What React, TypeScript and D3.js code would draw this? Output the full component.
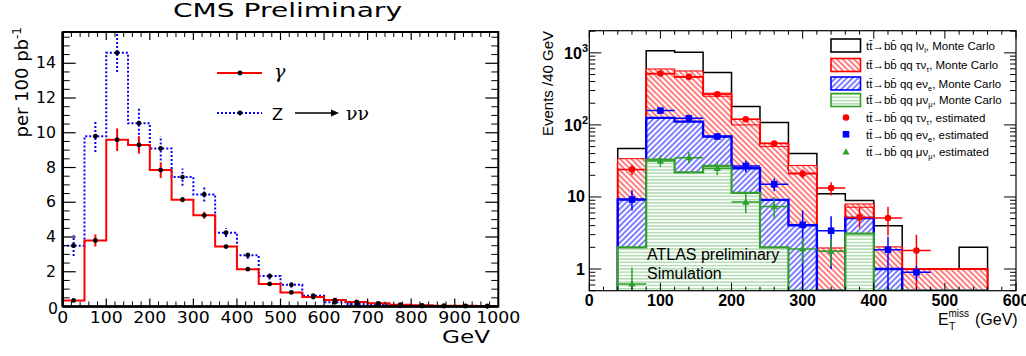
import React from 'react';
import * as d3 from 'd3';

// ---------------- left panel: CMS, MET spectra per 100 pb^-1 ----------------
const cmsBinLo = [0, 50, 100, 150, 200, 250, 300, 350, 400, 450, 500, 550, 600, 650, 700, 750, 800, 850, 900, 950];
const cmsBinWidth = 50;
const gammaVals = [0.35, 3.8, 9.6, 9.3, 7.85, 6.15, 5.25, 3.45, 2.15, 1.3, 0.81, 0.54, 0.37, 0.26, 0.18, 0.1, 0.07, 0.05, 0.04, 0.03];
const gammaErr = [0.05, 0.35, 0.65, 0.5, 0.45, 0.15, 0.2, 0.1, 0.1, 0.08, 0.06, 0.05, 0.04, 0.03, 0.03, 0.02, 0.02, 0.02, 0.01, 0.01];
const zvvVals = [3.5, 9.8, 14.6, 10.55, 9.1, 7.45, 6.45, 4.25, 2.95, 1.75, 1.25, 0.62, 0.24, 0.14, 0.1, 0.04, 0.03, 0.02, 0.02, 0.01];
const zvvErr = [0.6, 0.9, 1.1, 0.9, 0.7, 0.5, 0.4, 0.25, 0.2, 0.2, 0.15, 0.1, 0.06, 0.05, 0.04, 0.03, 0.02, 0.02, 0.02, 0.01];
const cmsXTicks = [0, 100, 200, 300, 400, 500, 600, 700, 800, 900, 1000];
const cmsYTicks = [0, 2, 4, 6, 8, 10, 12, 14];

// ---------------- right panel: ATLAS, ttbar MET (log) ----------------
const atlasBinLo = [40, 80, 120, 160, 200, 240, 280, 320, 360, 400, 440, 480, 520];
const atlasBinWidth = 40;
const mcLnu = [47, 1070, 1020, 532, 180, 108, 40, 11.1, 8.9, 4.0, 1.0, 1.0, 2.0];
const mcTau = [29, 550, 505, 263, 110, 53, 24, 1.85, 7.6, 1.95, 1.0, 1.0, 1.0];
const mcTauHi = [34, 598, 561, 276, 120, 56, 27.4, 1.96, 8.0, 2.03, 1.0, 1.0, 1.0];
const mcTauLo = [24, 510, 459, 250, 100, 50, 21.5, 1.77, 7.2, 1.86, 1.0, 1.0, 1.0];
const mcE = [9.2, 125, 111, 69, 25, 9.1, 4.05, 0, 5.1, 1.0, 0, 0, 0];
const mcMu = [2.0, 33, 22, 27, 11.4, 2.0, 0, 0, 3.1, 0, 0, 0, 0];

const estTauX = [60, 100, 140, 180, 220, 260, 300, 340, 380, 420, 460];
const estTau = [24, 515, 465, 267, 120, 55, 21, 13.3, 5.2, 5.1, 1.8];
const estTauHi = [28, 540, 490, 280, 128, 60, 24, 16, 7, 7.3, 3.0];
const estTauLo = [20, 490, 440, 255, 112, 50, 18, 10.5, 3.7, 2.9, 0.5];

const estEX = [60, 100, 140, 180, 220, 260, 300, 340, 420, 460];
const estE = [9.2, 158, 124, 69, 27, 15, 4.1, 3.4, 1.85, 0.9];
const estEHi = [12.5, 170, 135, 75, 32, 18, 6.5, 5.4, 2.8, 1.1];
const estELo = [6.5, 146, 113, 63, 22, 12, 0.5, 1.0, 0.5, 0.7];

const estMuX = [60, 100, 140, 180, 220, 260, 300, 340];
const estMu = [0.62, 31.5, 35, 25, 8.5, 7.4, 1.9, 1.77];
const estMuHi = [1.05, 38, 42, 30, 11.5, 10, 2.7, 2.6];
const estMuLo = [0.5, 26, 29, 20, 6, 5, 1.2, 1.1];

const atlasXTicks = [0, 100, 200, 300, 400, 500, 600];
const atlasYTicks = [1, 10, 100, 1000];

const W = 1026;
const H = 356;

const RED = '#ff0000';
const BLUE = '#0000ff';
const GREEN = '#33a02c';

// frames
const L = { x0: 62.7, x1: 498.3, y0: 306.5, y1: 32 };
const R = { x0: 589.3, x1: 1016, y0: 290.7, y1: 30.7 };

const xL = d3.scaleLinear().domain([0, 1000]).range([L.x0, L.x1]);
const yL = d3.scaleLinear().domain([0, 15.8]).range([L.y0, L.y1]);
const xR = d3.scaleLinear().domain([0, 600]).range([R.x0, R.x1]);
const yR = d3.scaleLog().domain([0.5, 2030]).range([R.y0, R.y1]).clamp(true);
const yRv = (v: number) => (v > 0 ? yR(v) : R.y0);

function stepLine(lo: number[], w: number, vals: number[], x: any, y: any) {
  const p = d3.path();
  vals.forEach((v, i) => {
    const a = x(lo[i]);
    const b = x(lo[i] + w);
    const yy = y(v);
    if (i === 0) p.moveTo(a, yy);
    else p.lineTo(a, yy);
    p.lineTo(b, yy);
  });
  return p.toString();
}

function stepArea(lo: number[], w: number, vals: number[], x: any, y: any, base: number) {
  const p = d3.path();
  p.moveTo(x(lo[0]), base);
  vals.forEach((v, i) => {
    p.lineTo(x(lo[i]), y(v));
    p.lineTo(x(lo[i] + w), y(v));
  });
  p.lineTo(x(lo[lo.length - 1] + w), base);
  return p.toString();
}

const SANS_L = 'DejaVu Sans, Verdana, sans-serif';
const SANS_R = 'Liberation Sans, Arial, Helvetica, sans-serif';

function CmsPanel() {
  const xMinor = d3.range(0, 1001, 20).filter(v => v % 100 !== 0);
  const yMinor = d3.range(0, 15.8, 0.5).filter(v => v % 2 !== 0);
  return (
    <g>
      <text x={173} y={17.3} fontFamily={SANS_L} fontSize={19.5} textLength={229} lengthAdjust="spacingAndGlyphs">CMS Preliminary</text>

      {/* histograms */}
      <path d={stepLine(cmsBinLo, cmsBinWidth, zvvVals, xL, yL)} fill="none" stroke={BLUE} strokeWidth={2} strokeDasharray="2,2" />
      <path d={stepLine(cmsBinLo, cmsBinWidth, gammaVals, xL, yL)} fill="none" stroke={RED} strokeWidth={2} />

      {zvvVals.map((v, i) => {
        const cx = xL(cmsBinLo[i] + cmsBinWidth / 2);
        return (
          <g key={'z' + i}>
            <line x1={cx} x2={cx} y1={yL(v - zvvErr[i])} y2={yL(v + zvvErr[i])} stroke={BLUE} strokeWidth={2} strokeDasharray="2,2" />
            <circle cx={cx} cy={yL(v)} r={2.4} fill="#000" />
          </g>
        );
      })}
      {gammaVals.map((v, i) => {
        const cx = xL(cmsBinLo[i] + cmsBinWidth / 2);
        return (
          <g key={'g' + i}>
            <line x1={cx} x2={cx} y1={yL(v - gammaErr[i])} y2={yL(v + gammaErr[i])} stroke={RED} strokeWidth={2} />
            <circle cx={cx} cy={yL(v)} r={2.4} fill="#000" />
          </g>
        );
      })}

      {/* ticks */}
      {cmsXTicks.map(t => (
        <g key={'xt' + t}>
          <line x1={xL(t)} x2={xL(t)} y1={L.y0} y2={L.y0 - 8} stroke="#000" strokeWidth={1.2} />
          <line x1={xL(t)} x2={xL(t)} y1={L.y1} y2={L.y1 + 8} stroke="#000" strokeWidth={1.2} />
          <text x={xL(t)} y={323} textAnchor="middle" fontFamily={SANS_L} fontSize={15}
            textLength={String(t).length * 11} lengthAdjust="spacingAndGlyphs">{t}</text>
        </g>
      ))}
      {xMinor.map(t => (
        <g key={'xm' + t}>
          <line x1={xL(t)} x2={xL(t)} y1={L.y0} y2={L.y0 - 5} stroke="#000" strokeWidth={1} />
          <line x1={xL(t)} x2={xL(t)} y1={L.y1} y2={L.y1 + 5} stroke="#000" strokeWidth={1} />
        </g>
      ))}
      {cmsYTicks.map(t => (
        <g key={'yt' + t}>
          <line x1={L.x0} x2={L.x0 + 13} y1={yL(t)} y2={yL(t)} stroke="#000" strokeWidth={1.2} />
          <line x1={L.x1} x2={L.x1 - 13} y1={yL(t)} y2={yL(t)} stroke="#000" strokeWidth={1.2} />
          <text x={t === 0 ? 58 : 56} y={t === 0 ? yL(t) + 2 : yL(t)} textAnchor="end" dominantBaseline="central" fontFamily={SANS_L} fontSize={15}
            textLength={String(t).length * 10} lengthAdjust="spacingAndGlyphs">{t}</text>
        </g>
      ))}
      {yMinor.map(t => (
        <g key={'ym' + t}>
          <line x1={L.x0} x2={L.x0 + 7} y1={yL(t)} y2={yL(t)} stroke="#000" strokeWidth={1} />
          <line x1={L.x1} x2={L.x1 - 7} y1={yL(t)} y2={yL(t)} stroke="#000" strokeWidth={1} />
        </g>
      ))}

      {/* frame */}
      <rect x={L.x0} y={L.y1} width={L.x1 - L.x0} height={L.y0 - L.y1} fill="none" stroke="#000" strokeWidth={2} />
      <line x1={L.x0} x2={L.x1} y1={L.y0} y2={L.y0} stroke="#000" strokeWidth={2.6} />
      <line x1={L.x0} x2={L.x0} y1={L.y0} y2={L.y1} stroke="#000" strokeWidth={2.6} />

      {/* axis titles */}
      <text x={442} y={343} fontFamily={SANS_L} fontSize={18} textLength={48} lengthAdjust="spacingAndGlyphs">GeV</text>
      <text transform="translate(28,27) rotate(-90)" textAnchor="end" fontFamily={SANS_L} fontSize={18}>
        per 100 pb<tspan dy={-7} fontSize={12}>-1</tspan>
      </text>

      {/* legend */}
      <line x1={217} x2={262} y1={73} y2={73} stroke={RED} strokeWidth={2} />
      <circle cx={240} cy={73} r={2.4} fill="#000" />
      <text x={274} y={78} fontFamily="DejaVu Serif, serif" fontStyle="italic" fontSize={19}>γ</text>
      <line x1={217} x2={262} y1={113} y2={113} stroke={BLUE} strokeWidth={2} strokeDasharray="2,2" />
      <circle cx={240} cy={113} r={2.4} fill="#000" />
      <text x={272} y={119.5} fontFamily={SANS_L} fontSize={16}>Z</text>
      <line x1={295} x2={334} y1={113} y2={113} stroke="#000" strokeWidth={1.3} />
      <path d="M331,109.5 L339,113 L331,116.5 Z" fill="#000" />
      <text x={346} y={119.5} fontFamily="DejaVu Serif, serif" fontSize={19}>νν</text>
    </g>
  );
}

function TtLabel({ x, y, lep, sub, tail }: { x: number; y: number; lep: string; sub: string; tail: string }) {
  return (
    <text x={x} y={y} fontFamily={SANS_R} fontSize={11.5} fill="#000">
      {'t' + 't\u0304' + '\u2192' + 'b' + 'b\u0304' + ' qq ' + lep + 'ν'}
      <tspan dy={3} fontSize={7.5}>{sub}</tspan>
      <tspan dy={-3}>{', ' + tail}</tspan>
    </text>
  );
}

function ErrBars({ xs, vals, hi, lo, color }: { xs: number[]; vals: number[]; hi: number[]; lo: number[]; color: string }) {
  return (
    <g stroke={color} strokeWidth={1.5}>
      {vals.map((v, i) => (
        <g key={i}>
          <line x1={xR(xs[i] - atlasBinWidth / 2)} x2={xR(xs[i] + atlasBinWidth / 2)} y1={yR(v)} y2={yR(v)} />
          <line x1={xR(xs[i])} x2={xR(xs[i])} y1={yR(lo[i])} y2={yR(hi[i])} />
        </g>
      ))}
    </g>
  );
}

function AtlasPanel() {
  const xMinor = d3.range(0, 601, 20).filter(v => v % 100 !== 0);
  const yMinor: number[] = [];
  [0.1, 1, 10, 100, 1000].forEach(dec => {
    [2, 3, 4, 5, 6, 7, 8, 9].forEach(m => {
      const v = +(dec * m).toPrecision(3);
      if (v >= 0.5 && v <= 2030) yMinor.push(v);
    });
  });
  const tri = (cx: number, cy: number) => `M${cx},${cy - 3.8} L${cx + 3.6},${cy + 2.6} L${cx - 3.6},${cy + 2.6} Z`;
  const legendRows = [45.5, 65, 83.5, 100];
  const legendFills = ['none', 'url(#hRed)', 'url(#hBlue)', 'url(#hGreen)'];
  const legendStrokes = ['#000', RED, BLUE, GREEN];
  const legendLep = [['l', 'l'], ['τ', 'τ'], ['e', 'e'], ['μ', 'μ']];
  return (
    <g>
      <defs>
        <clipPath id="atlasClip">
          <rect x={R.x0} y={R.y1} width={R.x1 - R.x0} height={R.y0 - R.y1} />
        </clipPath>
      </defs>
      <g clipPath="url(#atlasClip)">
        <path d={stepArea(atlasBinLo, atlasBinWidth, mcLnu, xR, yRv, R.y0)} fill="none" stroke="#000" strokeWidth={1.5} />
        <path d={stepArea(atlasBinLo, atlasBinWidth, mcTau, xR, yRv, R.y0)} fill="url(#hRed)" stroke={RED} strokeWidth={2} />
        {mcTau.map((v, i) => (
          mcTauHi[i] > mcTauLo[i] ? (
            <rect key={'tb' + i} x={xR(atlasBinLo[i])} width={xR(atlasBinLo[i] + atlasBinWidth) - xR(atlasBinLo[i])}
              y={yR(mcTauHi[i])} height={yR(mcTauLo[i]) - yR(mcTauHi[i])} fill="url(#hRed)" stroke={RED} strokeWidth={1} />
          ) : null
        ))}
        <path d={stepArea(atlasBinLo, atlasBinWidth, mcE, xR, yRv, R.y0)} fill="url(#hBlue)" stroke={BLUE} strokeWidth={2.4} />
        <path d={stepArea(atlasBinLo, atlasBinWidth, mcMu, xR, yRv, R.y0)} fill="url(#hGreen)" stroke={GREEN} strokeWidth={2.2} />

        <text x={647} y={260} fontFamily={SANS_R} fontSize={16}>ATLAS preliminary</text>
        <text x={647} y={279} fontFamily={SANS_R} fontSize={16}>Simulation</text>

        <ErrBars xs={estTauX} vals={estTau} hi={estTauHi} lo={estTauLo} color={RED} />
        <ErrBars xs={estEX} vals={estE} hi={estEHi} lo={estELo} color={BLUE} />
        <ErrBars xs={estMuX} vals={estMu} hi={estMuHi} lo={estMuLo} color="#2ca02c" />
        {estTau.map((v, i) => <circle key={'rt' + i} cx={xR(estTauX[i])} cy={yR(v)} r={3.3} fill={RED} />)}
        {estE.map((v, i) => <rect key={'re' + i} x={xR(estEX[i]) - 3.3} y={yR(v) - 3.3} width={6.6} height={6.6} fill={BLUE} />)}
        {estMu.map((v, i) => <path key={'rm' + i} d={tri(xR(estMuX[i]), yR(v))} fill="#2ca02c" />)}
      </g>

      {/* ticks */}
      {atlasXTicks.map(t => (
        <g key={'xt' + t}>
          <line x1={xR(t)} x2={xR(t)} y1={R.y0} y2={R.y0 - 8} stroke="#000" strokeWidth={1} />
          <line x1={xR(t)} x2={xR(t)} y1={R.y1} y2={R.y1 + 8} stroke="#000" strokeWidth={1} />
          <text x={xR(t)} y={305.5} textAnchor="middle" fontFamily={SANS_R} fontWeight="bold" fontSize={16}>{t}</text>
        </g>
      ))}
      {xMinor.map(t => (
        <g key={'xm' + t}>
          <line x1={xR(t)} x2={xR(t)} y1={R.y0} y2={R.y0 - 4} stroke="#000" strokeWidth={1} />
          <line x1={xR(t)} x2={xR(t)} y1={R.y1} y2={R.y1 + 4} stroke="#000" strokeWidth={1} />
        </g>
      ))}
      {atlasYTicks.map(t => (
        <g key={'yt' + t}>
          <line x1={R.x0} x2={R.x0 + 12} y1={yR(t)} y2={yR(t)} stroke="#000" strokeWidth={1} />
          <line x1={R.x1} x2={R.x1 - 12} y1={yR(t)} y2={yR(t)} stroke="#000" strokeWidth={1} />
        </g>
      ))}
      {yMinor.map(t => (
        <g key={'ym' + t}>
          <line x1={R.x0} x2={R.x0 + 6} y1={yR(t)} y2={yR(t)} stroke="#000" strokeWidth={1} />
          <line x1={R.x1} x2={R.x1 - 6} y1={yR(t)} y2={yR(t)} stroke="#000" strokeWidth={1} />
        </g>
      ))}
      <text x={585} y={yR(1)} textAnchor="end" dominantBaseline="central" fontFamily={SANS_R} fontWeight="bold" fontSize={16}>1</text>
      <text x={585} y={yR(10)} textAnchor="end" dominantBaseline="central" fontFamily={SANS_R} fontWeight="bold" fontSize={16}>10</text>
      <text x={588} y={yR(100) + 6} textAnchor="end" fontFamily={SANS_R} fontWeight="bold" fontSize={16}>
        10<tspan dy={-7} fontSize={11}>2</tspan>
      </text>
      <text x={588} y={yR(1000) + 6} textAnchor="end" fontFamily={SANS_R} fontWeight="bold" fontSize={16}>
        10<tspan dy={-7} fontSize={11}>3</tspan>
      </text>

      <rect x={R.x0} y={R.y1} width={R.x1 - R.x0} height={R.y0 - R.y1} fill="none" stroke="#000" strokeWidth={1.2} />

      {/* axis titles */}
      <text transform="translate(553,31) rotate(-90)" textAnchor="end" fontFamily={SANS_R} fontSize={15}>Events /40 GeV</text>
      <text x={938} y={325} fontFamily={SANS_R} fontSize={16}>E</text>
      <text x={949} y={330} fontFamily={SANS_R} fontSize={10.5}>T</text>
      <text x={948.5} y={316.5} fontFamily={SANS_R} fontSize={10}>miss</text>
      <text x={975} y={325} fontFamily={SANS_R} fontSize={16}>(GeV)</text>

      {/* legend */}
      {legendRows.map((ly, i) => (
        <g key={'lg' + i}>
          <rect x={831} y={ly - 6.5} width={29.5} height={13} fill={legendFills[i]} stroke={legendStrokes[i]} strokeWidth={1.6} />
          <TtLabel x={866} y={ly + 4} lep={legendLep[i][0]} sub={legendLep[i][1]} tail="Monte Carlo" />
        </g>
      ))}
      <circle cx={846} cy={117.5} r={3.3} fill={RED} />
      <TtLabel x={866} y={121.5} lep="τ" sub="τ" tail="estimated" />
      <rect x={842.7} y={131} width={6.6} height={6.6} fill={BLUE} />
      <TtLabel x={866} y={138.5} lep="e" sub="e" tail="estimated" />
      <path d={tri(846, 152)} fill="#2ca02c" />
      <TtLabel x={866} y={155.5} lep="μ" sub="μ" tail="estimated" />
    </g>
  );
}

export default function App() {
  return (
    <div style={{ position: 'absolute', left: 0, top: 0 }}>
      <svg width={W} height={H} viewBox={`0 0 ${W} ${H}`} style={{ display: 'block' }}>
        <defs>
          <pattern id="hRed" patternUnits="userSpaceOnUse" width={4} height={4} patternTransform="rotate(45)">
            <rect width={4} height={4} fill="#fff" />
            <line x1={0} x2={4} y1={2} y2={2} stroke={RED} strokeWidth={1} />
          </pattern>
          <pattern id="hBlue" patternUnits="userSpaceOnUse" width={4} height={4} patternTransform="rotate(-45)">
            <rect width={4} height={4} fill="#fff" />
            <line x1={0} x2={4} y1={2} y2={2} stroke={BLUE} strokeWidth={1} />
          </pattern>
          <pattern id="hGreen" patternUnits="userSpaceOnUse" width={4} height={3.3}>
            <rect width={4} height={3.3} fill="#fff" />
            <line x1={0} x2={4} y1={1.6} y2={1.6} stroke="#86c986" strokeWidth={1} />
          </pattern>
        </defs>
        <rect width={W} height={H} fill="#fff" />
        <CmsPanel />
        <AtlasPanel />
      </svg>
    </div>
  );
}
